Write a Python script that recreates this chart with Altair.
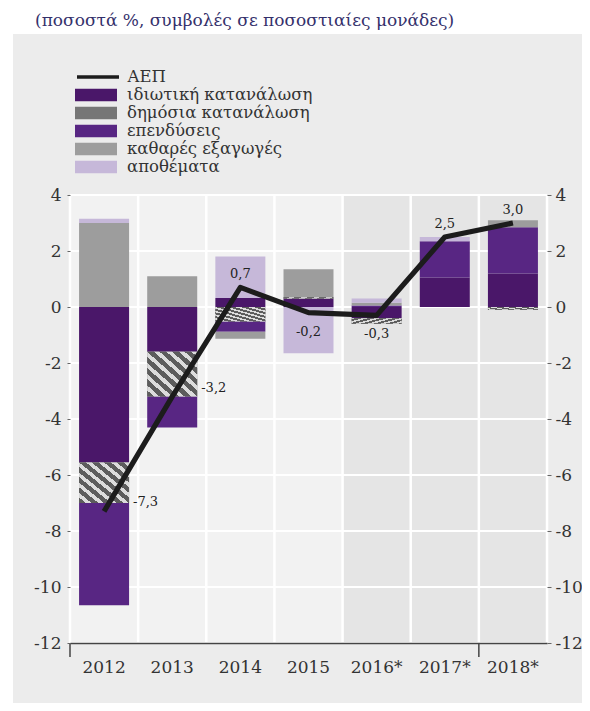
import altair as alt
import pandas as pd

# ---------------- data ----------------
years = ["2012", "2013", "2014", "2015", "2016*", "2017*", "2018*"]
components = ["ιδιωτική κατανάλωση", "δημόσια κατανάλωση", "επενδύσεις",
              "καθαρές εξαγωγές", "αποθέματα"]
private = [-5.55, -1.6, 0.32, 0.3, -0.4, 1.05, 1.2]
public = [-1.45, -1.6, -0.52, 0.05, -0.2, 0.0, -0.1]
investment = [-3.65, -1.1, -0.36, 0.0, 0.05, 1.3, 1.65]
net_exports = [3.0, 1.1, -0.25, 1.0, 0.1, 0.0, 0.25]
inventories = [0.15, 0.0, 1.48, -1.65, 0.15, 0.15, 0.0]
gdp = [-7.3, -3.2, 0.7, -0.2, -0.3, 2.5, 3.0]
gdp_name = "ΑΕΠ"
projection_years = ["2016*", "2017*", "2018*"]
tick_years = ["2012", "2018*"]
y_ticks = [-12, -10, -8, -6, -4, -2, 0, 2, 4]
right_label_years = ["2012", "2013"]
above_label_years = ["2014", "2017*", "2018*"]
below_label_years = ["2015", "2016*"]
title_text = "(ποσοστά %, συμβολές σε ποσοστιαίες μονάδες)"

# ---------------- style ----------------
W, H = 477, 448
FONT = "DejaVu Serif"
colors = ["#4a1769", "#767676", "#582683", "#9d9d9d", "#c6b8d9"]

rows = []
for ci, (name, vals) in enumerate(zip(components, [private, public, investment, net_exports, inventories])):
    for yr, v in zip(years, vals):
        rows.append({"year": yr, "component": name, "value": v, "order": ci})
bars_df = pd.DataFrame(rows)
gdp_df = pd.DataFrame({"year": years, "gdp": gdp, "series": gdp_name})

xscale = alt.Scale(domain=years, paddingInner=0, paddingOuter=0)
yscale = alt.Scale(domain=[-12, 4], nice=False, zero=False)

x_axis = alt.Axis(title=None, labelAngle=0, ticks=False, domainColor="#444", domainWidth=1.5,
                  labelFont=FONT, labelFontSize=17, labelColor="#333", labelPadding=16, zindex=1,
                  grid=False)


def X(**kw):
    return alt.X("year:N", sort=years, scale=xscale, axis=x_axis, **kw)


def stripes(c1, c2, n, frac):
    stops = []
    for i in range(n):
        a = i / n
        b = (i + frac) / n
        c = (i + 1) / n
        stops += [alt.GradientStop(color=c1, offset=a), alt.GradientStop(color=c1, offset=b),
                  alt.GradientStop(color=c2, offset=b), alt.GradientStop(color=c2, offset=c)]
    return alt.Gradient(gradient="linear", stops=stops, x1=0, y1=1, x2=1, y2=0)


one = pd.DataFrame({"k": [0]})

panel = alt.Chart(one).mark_rect(color="#ececec").encode(
    x=alt.value(-57), x2=alt.value(W + 45), y=alt.value(-161), y2=alt.value(H + 70))
plotbg = alt.Chart(one).mark_rect(color="#f2f2f2").encode(
    x=alt.value(0), x2=alt.value(W), y=alt.value(0), y2=alt.value(H))

shade = alt.Chart(pd.DataFrame({"year": projection_years})).mark_rect(color="#e5e5e5").encode(
    x=X(), y=alt.value(0), y2=alt.value(H))

left_axis = alt.Axis(orient="left", values=y_ticks, title=None, domain=False, grid=False,
                     tickSize=3, tickColor="#666", labelPadding=6, labelExpr="'' + datum.value",
                     labelFont=FONT, labelFontSize=17, labelColor="#333", zindex=1)
right_axis = alt.Axis(orient="right", values=y_ticks, title=None, domain=False, grid=False,
                      tickSize=4, tickColor="#666", labelPadding=4, labelExpr="'' + datum.value",
                      labelFont=FONT, labelFontSize=17, labelColor="#333", zindex=1)

hgrid = alt.Chart(pd.DataFrame({"t": y_ticks})).mark_rule(color="white", strokeWidth=2).encode(
    y=alt.Y("t:Q", scale=yscale, axis=left_axis))

vgrid = alt.Chart(pd.DataFrame({"year": years})).mark_rule(color="white", strokeWidth=2.5).encode(
    x=X(bandPosition=0))
vgrid_end = alt.Chart(pd.DataFrame({"year": years[-1:]})).mark_rule(color="white", strokeWidth=2.5).encode(
    x=X(bandPosition=1))

xticks = alt.Chart(pd.DataFrame({"year": tick_years})).mark_rule(color="#444", strokeWidth=1.5).encode(
    x=X(bandPosition=0), y=alt.value(H), y2=alt.value(H + 14))

stacked = alt.Chart(bars_df).transform_stack(
    stack="value", groupby=["year"], as_=["v0", "v1"],
    sort=[alt.SortField("order", "ascending")], offset="zero")

bars = stacked.mark_bar(size=50).encode(
    x=X(),
    y=alt.Y("v0:Q", scale=yscale, axis=None),
    y2="v1:Q",
    fill=alt.Fill("component:N", sort=components,
                  scale=alt.Scale(domain=components, range=colors),
                  legend=alt.Legend(title=None, orient="none", legendX=5, legendY=-109,
                                    symbolType="M-1,-0.3H1V0.3H-1Z", symbolSize=1764,
                                    symbolStrokeWidth=0, symbolOpacity=1, clipHeight=18,
                                    rowPadding=0, padding=0, labelOffset=10, labelLimit=400,
                                    labelFont=FONT, labelFontSize=16.5, labelColor="#333")),
)

public_overlay = stacked.transform_filter(
    alt.datum.component == components[1]).mark_bar(
    size=50, fill=stripes("#5c5c5c", "#dcdcdc", 8, 0.55)).encode(
    x=X(),
    y=alt.Y("v0:Q", scale=yscale, axis=None),
    y2="v1:Q")

line = alt.Chart(gdp_df).mark_line(strokeWidth=5.2, strokeJoin="round").encode(
    x=X(),
    y=alt.Y("gdp:Q", scale=yscale, axis=right_axis),
    stroke=alt.Stroke("series:N", scale=alt.Scale(domain=[gdp_name], range=["#1c1c1c"]),
                      legend=alt.Legend(title=None, orient="none", legendX=5, legendY=-127,
                                        symbolType="stroke", symbolSize=1764,
                                        symbolStrokeWidth=3.5, clipHeight=18, padding=0,
                                        labelOffset=6.5, labelFont=FONT, labelFontSize=16.5,
                                        labelLimit=400, labelColor="#333")),
)

label_base = alt.Chart(gdp_df).transform_calculate(
    label="(datum.gdp < 0 ? '-' : '') + replace(format(abs(datum.gdp), '.1f'), '.', ',')")


def label_layer(yrs, **kw):
    return label_base.transform_filter(alt.FieldOneOfPredicate(field="year", oneOf=yrs)).mark_text(
        font=FONT, fontSize=13, color="#222", **kw).encode(
        x=X(),
        y=alt.Y("gdp:Q", scale=yscale, axis=None),
        text="label:N")


labels_right = label_layer(right_label_years, align="left", dx=29, dy=-9)
labels_above = label_layer(above_label_years, align="center", dy=-13)
labels_below = label_layer(below_label_years, align="center", dy=19)

chart = alt.layer(
    panel, plotbg, shade, hgrid, vgrid, vgrid_end, xticks, bars, public_overlay, line,
    labels_right, labels_above, labels_below
).resolve_axis(y="independent").properties(
    width=W, height=H,
    padding={"left": 62, "top": 187, "right": 35, "bottom": 60},
    autosize=alt.AutoSizeParams(type="none"),
    title=alt.Title(text=title_text, anchor="start", frame="group", dx=-35,
                    font=FONT, fontSize=17, fontWeight="normal", color="#34306b"),
).configure_view(stroke=None)

chart.save("out.html", embed_options={"renderer": "svg", "actions": False})
